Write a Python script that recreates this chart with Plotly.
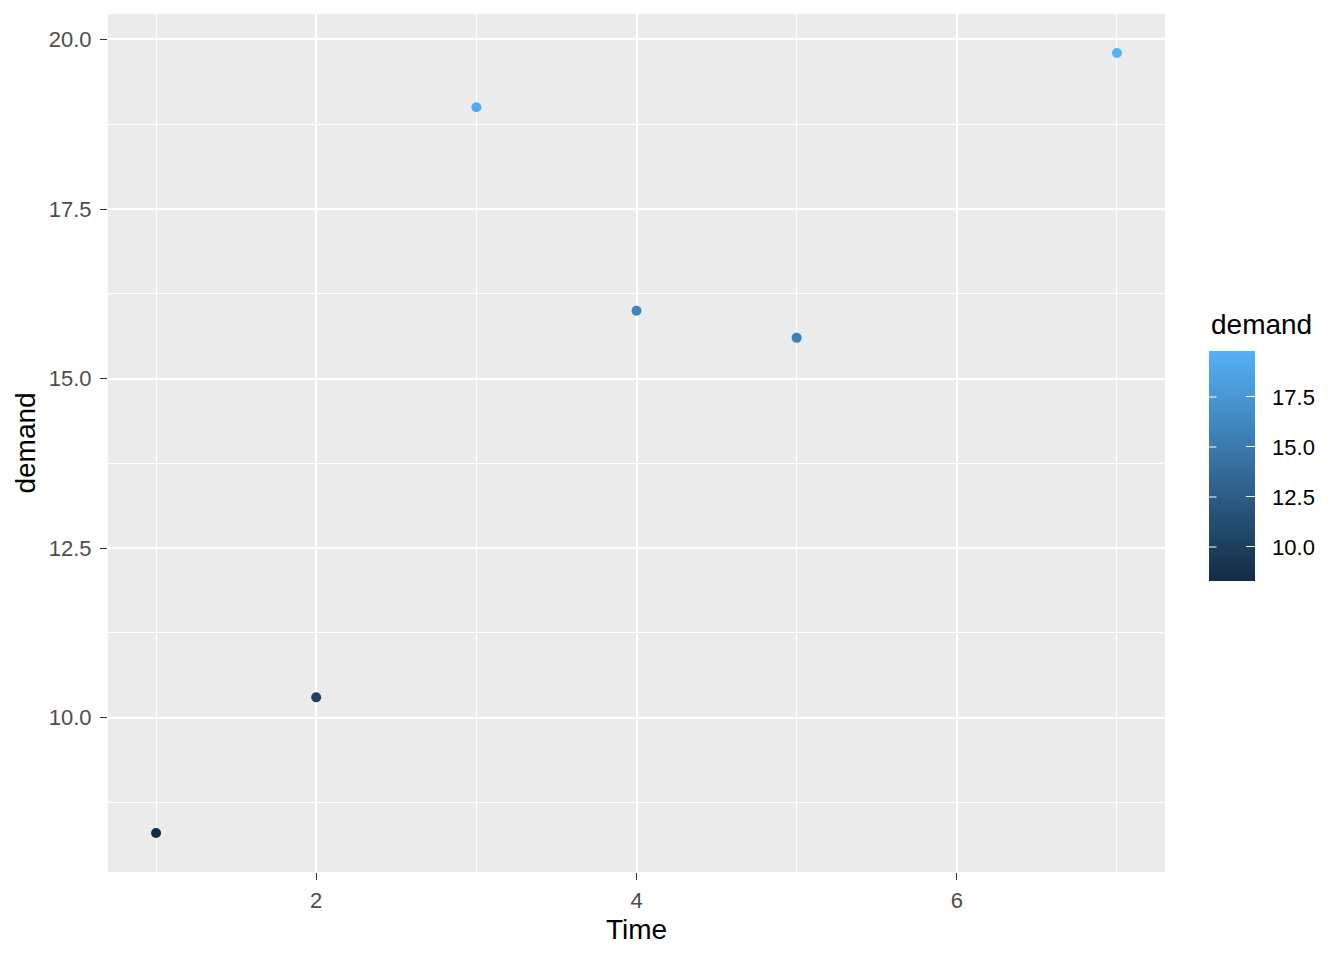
import plotly.graph_objects as go

time = [1, 2, 3, 4, 5, 7]
demand = [8.3, 10.3, 19.0, 16.0, 15.6, 19.8]
cb_ticks = [10.0, 12.5, 15.0, 17.5]
x_ticks = [2, 4, 6]
x_minor = [1, 3, 5, 7]
y_ticks = [10.0, 12.5, 15.0, 17.5, 20.0]
y_minor = [8.75, 11.25, 13.75, 16.25, 18.75]

# page body has an 8px margin; figure is sized to fill the rest of the window
W, H = 1336, 952
OFF = 8
# plot panel in page pixels
PL, PR, PT, PB = 108, 1165, 14, 872
L, R, T, B = PL - OFF, W - (PR - OFF), PT - OFF, H - (PB - OFF)
# colorbar bar in page pixels
CBL, CBR, CBT, CBB = 1209, 1255, 351, 581
CB_SHIFT = 50  # empirical correction of plotly's colorbar placement

cmin, cmax = min(demand), max(demand)
NB = "\u00a0"

fig = go.Figure(go.Scatter(
    x=time, y=demand, mode="markers",
    marker=dict(
        size=10, color=demand,
        colorscale=[[0, "#132B43"], [1, "#56B1F7"]],
        cmin=cmin, cmax=cmax,
        line=dict(width=0),
        showscale=True,
        colorbar=dict(
            thickness=CBR - CBL, thicknessmode="pixels",
            len=CBB - CBT, lenmode="pixels",
            xref="container", yref="container",
            x=(CBL - OFF) / W, xanchor="left",
            y=1 - ((CBT + CBB) / 2 + CB_SHIFT - OFF) / H, yanchor="middle",
            outlinewidth=0, xpad=0, ypad=0,
            tickvals=cb_ticks, ticktext=[f"{NB}{NB}{v:.1f}" for v in cb_ticks],
            ticks="inside", ticklen=9, tickcolor="white", tickwidth=1.2,
            tickfont=dict(size=22, color="#000000"),
        ),
    ),
    hoverinfo="x+y",
))

# left-side white ticks on the colour bar (ggplot draws them on both sides)
pw, ph = PR - PL, PB - PT
for v in cb_ticks:
    yp = CBB - (v - cmin) / (cmax - cmin) * (CBB - CBT)
    fig.add_annotation(
        xref="paper", yref="paper",
        x=(CBL - PL) / pw, y=(PB - yp) / ph,
        ax=9, ay=0, text="", showarrow=True, arrowhead=0,
        arrowwidth=1.2, arrowcolor="white", standoff=0, startstandoff=0,
    )

fig.add_annotation(text="demand", xref="paper", yref="paper",
                   x=(CBL - PL) / pw, y=(PB - 324) / ph,
                   xanchor="left", yanchor="middle", showarrow=False,
                   font=dict(size=28, color="#000000"))

axis_common = dict(
    showline=False, zeroline=False, automargin=False,
    gridcolor="white", gridwidth=2.2,
    ticks="outside", ticklen=7, tickwidth=1.4, tickcolor="#333333",
    tickfont=dict(size=22, color="#4D4D4D"),
    title_font=dict(size=28, color="#000000"),
)

fig.update_xaxes(
    range=[0.7, 7.3], tickvals=x_ticks, title_text="Time", title_standoff=6,
    ticklabelstandoff=2,
    minor=dict(tickvals=x_minor, showgrid=True, gridcolor="white", gridwidth=1.1, ticks=""),
    **axis_common,
)
fig.update_yaxes(
    range=[7.725, 20.375], tickvals=y_ticks, ticktext=[f"{v:.1f}" for v in y_ticks],
    title_text="demand", title_standoff=4, ticklabelstandoff=4,
    minor=dict(tickvals=y_minor, showgrid=True, gridcolor="white", gridwidth=1.1, ticks=""),
    **axis_common,
)

fig.update_layout(
    width=W, height=H,
    margin=dict(l=L, r=R, t=T, b=B),
    paper_bgcolor="white", plot_bgcolor="#EBEBEB",
    font=dict(family="Liberation Sans, Arial, sans-serif"),
    showlegend=False,
)

fig.write_html("out.html")
